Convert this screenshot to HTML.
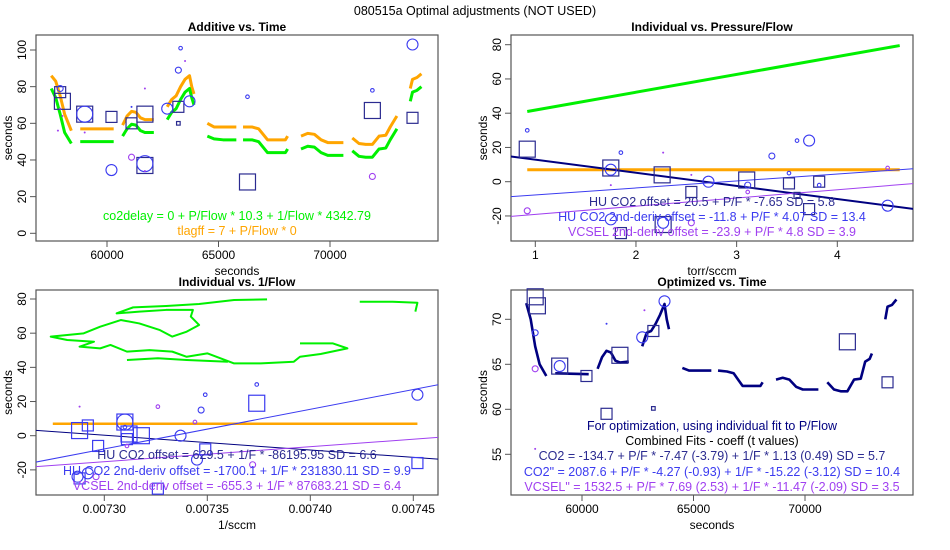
<!DOCTYPE html>
<html><head><meta charset="utf-8"><style>
body{margin:0;background:#fff;}
svg{display:block;font-family:"Liberation Sans",sans-serif;}
</style></head><body>
<svg id="c" width="950" height="550" viewBox="0 0 950 550"></svg>
<script>
// ---------- Data ----------
const segTimes=[[57500,57700,57900,58100,58400],[58800,60300],[60700,60900,61100,61300,61500,61700,62100],[62700,62900,63100,63300,63500,63700,63800,63900],[64500,64800,65200,65800],[66100,66500,66800,67000,67200,67500,68000,68100],[68700,69000,69300,69600,69900,70600],[71000,71300,71600,71900,72200,72500,72700,72900,73000],[73600,73700,73900,74100]];
const orangeVals=[[86,83,75,65,56],[57,57],[59,64,66.5,66,63,62,62],[69,73,75,80,84,86,80,76],[60,58,58,58],[58,58,57,54,51,51,51,53],[53,54.5,54,51,49.5,49.5],[52,49,48.5,48.5,53,53.5,58,62,64],[79,84,85,87]];
const greenVals=[[79,74,65,55,49],[50,50],[53,57,59.5,59,56,55,55],[62,66,68,73,77,79,74,70],[53,51.5,51,51],[51,51,50,47,44,44,44,46],[46,47.5,47,44,42.5,42.5],[45,42,41.5,41.5,46,46.5,51,55,57],[72,77,78,80]];
const optVals=[[71.8,70,67,65,63.7],[64,63.9],[64.5,65.8,66.5,66.3,65.4,65.2,65.3],[67,68.5,68.7,69.5,70.5,71.7,70,68.9],[64.6,64.3,64.3,64.3],[64.3,64.2,64,63.3,62.6,62.6,62.6,63],[63.3,63.5,63.3,62.5,62.2,62.2],[63,62.2,62,62,63.3,63.4,65.3,65.6,66.2],[70,71.4,71.6,72.2]];
const p1Squares=[[57900,77,'m'],[58000,72,'l'],[59000,65,'l'],[60200,63.5,'m'],[61100,60,'m'],[61700,65,'l'],[61700,37,'l'],[63200,69,'m'],[66300,28,'l'],[71900,67,'l'],[73700,63,'m'],[63200,60,'t']];
const p1Circles=[[57900,79,'s'],[59000,65,'l'],[60200,34.5,'m'],[61700,38,'l'],[62700,68,'m'],[63200,89,'s'],[63300,101,'t'],[63700,72,'m'],[66300,74.5,'t'],[71900,78,'t'],[73700,103,'m'],[61100,69,'d']];
const p1Purple=[[61100,41.5,'s'],[71900,31,'s'],[63500,94,'d'],[61700,79,'d'],[57900,68,'d'],[58000,64,'d'],[57800,56,'d'],[59000,55,'d'],[61700,34,'d']];
const p2Squares=[[0.92,19,'l'],[1.75,8,'l'],[2.26,4,'l'],[2.55,-6,'m'],[3.1,1,'l'],[3.52,-1,'m'],[3.6,-8,'s'],[3.72,-16,'m'],[3.82,0,'m'],[1.85,-30,'m'],[2.27,-25,'l']];
const p2Circles=[[0.92,30,'t'],[1.75,7,'m'],[1.75,-22,'m'],[1.85,17,'t'],[2.72,0,'m'],[3.11,-2,'s'],[3.35,15,'s'],[3.52,5,'t'],[3.6,24,'t'],[3.72,24,'m'],[3.82,-2,'t'],[4.5,-14,'m'],[2.27,-24,'m']];
const p2Purple=[[0.92,-17,'s'],[2.55,-24,'s'],[3.11,-6,'t'],[4.5,8,'t'],[2.27,17,'d'],[1.75,-2,'d'],[2.55,4,'d']];
const p2GreenEnds=[[0.92,41],[4.62,79.5]];
const orangeLevel=7;
const p2Fits=[[20.5,-7.65],[-11.8,4.07],[-23.9,4.8]];
const p3Fits=[[629.5,-86195.95],[-1700.1,231830.11],[-655.3,87683.21]];
const p3Cloud=[[0.007379,79.8],[0.007363,79.4],[0.007346,77.1],[0.007330,75.9],[0.007314,75.1],[0.007306,71.6],[0.007317,72.6],[0.007330,73.6],[0.007343,73.6],[0.007342,69.7],[0.007346,64.8],[0.007340,60.9],[0.007333,58.0],[0.007327,61.8],[0.007317,65.7],[0.007308,67.7],[0.007298,63.8],[0.007290,59.9],[0.007274,58.0],[0.007282,56.0],[0.007295,55.0],[0.007288,52.1],[0.007298,51.1],[0.007303,53.1],[0.007311,49.2],[0.007322,50.1],[0.007333,49.2],[0.007340,46.2],[0.007350,48.2],[0.007363,42.3],[0.007376,42.3],[0.007392,43.3],[0.007395,46.2],[0.007405,47.8],[0.007418,51.1],[0.007411,54.0],[0.007395,54.0]];
const p3Cloud2=[[0.007311,44.3],[0.007326,45.3],[0.007340,44.3],[0.007360,43.3]];
const p3Cloud3=[[0.007424,78.4],[0.007440,78.4],[0.007452,77.8],[0.007451,72.6]];
const p3Squares=[[0.007288,3,'l'],[0.007292,6,'m'],[0.007297,-6,'m'],[0.007310,8,'l'],[0.007312,1,'l'],[0.007311,-2,'m'],[0.007318,0,'l'],[0.007326,-31,'m'],[0.007349,-8,'m'],[0.007374,19,'l'],[0.007452,-16,'m'],[0.007288,-25,'m']];
const p3Circles=[[0.007310,8,'l'],[0.007337,0,'m'],[0.007347,15,'s'],[0.007349,24,'t'],[0.007374,30,'t'],[0.007452,24,'m'],[0.007345,-14,'m'],[0.007287,-24,'m'],[0.007292,-22,'m'],[0.007310,5,'t']];
const p3Purple=[[0.007326,17,'t'],[0.007372,-17,'s'],[0.007296,-24,'s'],[0.007344,8,'t'],[0.007288,17,'d'],[0.007311,-6,'t']];
const p4Squares=[[57900,72.5,'l'],[58000,71.5,'l'],[59000,64.8,'l'],[60200,63.7,'m'],[61100,59.5,'m'],[61700,66,'l'],[63200,68.7,'m'],[71900,67.5,'l'],[73700,63,'m'],[63200,60.1,'t']];
const p4Circles=[[57900,68.5,'s'],[59000,64.8,'m'],[62700,68,'m'],[63700,72,'m'],[61100,69.5,'d']];
const p4Purple=[[57900,64.5,'s'],[62800,71,'d'],[57900,55.6,'d']];
const ticks1Y=[0,20,40,60,80,100], ticksTime=[60000,65000,70000];
const ticks2Y=[-20,0,20,40,60,80], ticks2X=[1,2,3,4];
const ticks3X=[0.0073,0.00735,0.0074,0.00745];
const ticks4Y=[55,60,65,70];
// ---------- Helpers ----------
const svg=document.getElementById('c');const NS='http://www.w3.org/2000/svg';
function mk(tag,attrs,parent){const e=document.createElementNS(NS,tag);for(const k in attrs)e.setAttribute(k,attrs[k]);(parent||svg).appendChild(e);return e;}
function txt(x,y,s,attrs,parent){const e=mk('text',Object.assign({x:x,y:y,'font-size':12,'text-anchor':'middle'},attrs),parent);e.textContent=s;return e;}
const SZ={t:1.8,s:3,m:5.5,l:8,d:1};
const NAVY='#2b2b90',BLUE='#3b3bf0',PURP='#a040f0',GREEN='#00f000',ORANGE='#ffa500',DNAVY='#000080';
function panel(name,box,xd,yd){
  const g=mk('g',{});
  const sx=v=>xd[2]+(v-xd[0])*(xd[3]-xd[2])/(xd[1]-xd[0]);
  const sy=v=>yd[2]+(v-yd[0])*(yd[3]-yd[2])/(yd[1]-yd[0]);
  return {g,sx,sy,box};
}
function axes(P,xt,xfmt,yt,title,xlab,nm){
  const [x0,y0,x1,y1]=P.box;
  const b=mk('rect',{x:x0,y:y0,width:x1-x0,height:y1-y0,fill:'none',stroke:'#555','stroke-width':1.2},P.g);
  
  const xa=mk('g',{},P.g);
  mk('line',{x1:P.sx(xt[0]),x2:P.sx(xt[xt.length-1]),y1:y1,y2:y1,stroke:'#555'},xa);
  xt.forEach(v=>{mk('line',{x1:P.sx(v),x2:P.sx(v),y1:y1,y2:y1+6,stroke:'#555'},xa);txt(P.sx(v),y1+18,xfmt(v),{},xa);});
  const ya=mk('g',{},P.g);
  mk('line',{x1:x0,x2:x0,y1:P.sy(yt[0]),y2:P.sy(yt[yt.length-1]),stroke:'#555'},ya);
  yt.forEach(v=>{const y=P.sy(v);mk('line',{x1:x0-6,x2:x0,y1:y,y2:y,stroke:'#555'},ya);txt(x0-10,y,String(v),{transform:`rotate(-90 ${x0-10} ${y})`},ya);});
  const t=txt((x0+x1)/2,y0-4,title,{'font-weight':'bold'},P.g);
  const xl=txt((x0+x1)/2,y1+34,xlab,{},P.g);
  const yl=txt(x0-24,(y0+y1)/2,'seconds',{transform:`rotate(-90 ${x0-24} ${(y0+y1)/2})`},P.g);
}
function markers(P,arr,shape,color,nm){
  const g=mk('g',{},P.g);
  arr.forEach(p=>{const x=P.sx(p[0]),y=P.sy(p[1]),r=SZ[p[2]];let e;
    if(p[2]==='d')e=mk('circle',{cx:x,cy:y,r:1,fill:color},g);
    else if(shape==='sq')e=mk('rect',{x:x-r,y:y-r,width:2*r,height:2*r,fill:'none',stroke:color,'stroke-width':1.2},g);
    else e=mk('circle',{cx:x,cy:y,r:r,fill:'none',stroke:color,'stroke-width':1.1},g);
    });
}
function segLines(P,times,vals,color,w,nm){
  const g=mk('g',{},P.g);
  times.forEach((ts,i)=>{const pts=ts.map((t,j)=>P.sx(t)+','+P.sy(vals[i][j])).join(' ');
    const e=mk('polyline',{points:pts,fill:'none',stroke:color,'stroke-width':w,'stroke-linejoin':'round'},g);
    });
}
function clipTo(P,id){const c=mk('clipPath',{id:id});mk('rect',{x:P.box[0],y:P.box[1],width:P.box[2]-P.box[0],height:P.box[3]-P.box[1]},c);}
function fitLine(P,f,color,w,nm,xr,id){
  const e=mk('line',{x1:P.sx(xr[0]),y1:P.sy(f[0]+f[1]*xr[0]),x2:P.sx(xr[1]),y2:P.sy(f[0]+f[1]*xr[1]),stroke:color,'stroke-width':w,'clip-path':`url(#${id})`},P.g);
  
}
function label(P,x,y,s,color,nm){const t=txt(x,y,s,{fill:color,'font-size':12.5},P.g);}

const mt=txt(475,15,'080515a   Optimal adjustments (NOT USED)',{'font-size':12.5});


// Panel 1
const P1=panel('panel-additive-vs-time',[36,35,438,241],[60000,70000,107,330],[0,100,233.3,50]);
axes(P1,ticksTime,String,ticks1Y,'Additive vs. Time','seconds','p1');
segLines(P1,segTimes,orangeVals,ORANGE,3,'tlagff-series');
segLines(P1,segTimes,greenVals,GREEN,3,'co2delay-series');
markers(P1,p1Squares,'sq',NAVY,'hu-co2-squares');
markers(P1,p1Circles,'ci',BLUE,'hu-co2-2nd-circles');
markers(P1,p1Purple,'ci',PURP,'vcsel-circles');
label(P1,237,220,'co2delay = 0 + P/Flow * 10.3 + 1/Flow * 4342.79',GREEN,'co2delay-equation');
label(P1,237,235,'tlagff = 7 + P/Flow * 0',ORANGE,'tlagff-equation');

// Panel 2
const P2=panel('panel-individual-vs-pressure-flow',[511,35,913,241],[1,4,535.3,837.3],[0,80,181.7,44.7]);
clipTo(P2,'cl2');
axes(P2,ticks2X,String,ticks2Y,'Individual vs. Pressure/Flow','torr/sccm','p2');
(function(){const e=mk('line',{x1:P2.sx(p2GreenEnds[0][0]),y1:P2.sy(p2GreenEnds[0][1]),x2:P2.sx(p2GreenEnds[1][0]),y2:P2.sy(p2GreenEnds[1][1]),stroke:GREEN,'stroke-width':3},P2.g);
const o=mk('line',{x1:P2.sx(0.92),y1:P2.sy(orangeLevel),x2:P2.sx(4.62),y2:P2.sy(orangeLevel),stroke:ORANGE,'stroke-width':3},P2.g);})();
fitLine(P2,p2Fits[0],DNAVY,2,'hu-co2-fit',[0.7,4.8],'cl2');
fitLine(P2,p2Fits[1],BLUE,1,'hu-co2-2nd-fit',[0.7,4.8],'cl2');
fitLine(P2,p2Fits[2],PURP,1,'vcsel-fit',[0.7,4.8],'cl2');
markers(P2,p2Squares,'sq',NAVY,'hu-co2-squares');
markers(P2,p2Circles,'ci',BLUE,'hu-co2-2nd-circles');
markers(P2,p2Purple,'ci',PURP,'vcsel-circles');
label(P2,712,206,'HU CO2 offset = 20.5 + P/F * -7.65  SD = 5.8',NAVY,'hu-co2-equation');
label(P2,712,221,'HU CO2 2nd-deriv offset = -11.8 + P/F * 4.07  SD = 13.4',BLUE,'hu-co2-2nd-equation');
label(P2,712,236,'VCSEL 2nd-deriv offset = -23.9 + P/F * 4.8  SD = 3.9',PURP,'vcsel-equation');

// Panel 3
const P3=panel('panel-individual-vs-inverse-flow',[36,290,438,495],[0.0073,0.00745,104.3,413.3],[0,80,435.7,299]);
clipTo(P3,'cl3');
axes(P3,ticks3X,v=>v.toFixed(5),ticks2Y,'Individual vs. 1/Flow','1/sccm','p3');
[p3Cloud,p3Cloud2,p3Cloud3].forEach(c=>{const e=mk('polyline',{points:c.map(p=>P3.sx(p[0])+','+P3.sy(p[1])).join(' '),fill:'none',stroke:GREEN,'stroke-width':2,'stroke-linejoin':'round'},P3.g);});
(function(){const o=mk('line',{x1:P3.sx(0.007275),y1:P3.sy(orangeLevel),x2:P3.sx(0.007452),y2:P3.sy(orangeLevel),stroke:ORANGE,'stroke-width':2.5},P3.g);})();
fitLine(P3,p3Fits[0],DNAVY,1,'hu-co2-fit',[0.00726,0.00747],'cl3');
fitLine(P3,p3Fits[1],BLUE,1,'hu-co2-2nd-fit',[0.00726,0.00747],'cl3');
fitLine(P3,p3Fits[2],PURP,1,'vcsel-fit',[0.00726,0.00747],'cl3');
markers(P3,p3Squares,'sq',BLUE,'hu-co2-squares');
markers(P3,p3Circles,'ci',BLUE,'hu-co2-2nd-circles');
markers(P3,p3Purple,'ci',PURP,'vcsel-circles');
label(P3,237,459,'HU CO2 offset = 629.5 + 1/F * -86195.95  SD = 6.6',NAVY,'hu-co2-equation');
label(P3,237,475,'HU CO2 2nd-deriv offset = -1700.1 + 1/F * 231830.11  SD = 9.9',BLUE,'hu-co2-2nd-equation');
label(P3,237,490,'VCSEL 2nd-deriv offset = -655.3 + 1/F * 87683.21  SD = 6.4',PURP,'vcsel-equation');

// Panel 4
const P4=panel('panel-optimized-vs-time',[511,290,913,495],[60000,70000,582,805],[55,70,454.3,319.3]);
axes(P4,ticksTime,String,ticks4Y,'Optimized vs. Time','seconds','p4');
segLines(P4,segTimes,optVals,DNAVY,2.6,'optimized-series');
markers(P4,p4Squares,'sq',NAVY,'hu-co2-squares');
markers(P4,p4Circles,'ci',BLUE,'hu-co2-2nd-circles');
markers(P4,p4Purple,'ci',PURP,'vcsel-circles');
label(P4,712,430,'For optimization, using individual fit to P/Flow',DNAVY,'optimization-note');
label(P4,712,445,'Combined Fits - coeff (t values)','#000','combined-fits-heading');
label(P4,712,460,'CO2 = -134.7 + P/F * -7.47 (-3.79) + 1/F * 1.13 (0.49)  SD = 5.7',NAVY,'co2-combined-equation');
label(P4,712,476,'CO2" = 2087.6 + P/F * -4.27 (-0.93) + 1/F * -15.22 (-3.12)  SD = 10.4',BLUE,'co2-2nd-combined-equation');
label(P4,712,491,'VCSEL" = 1532.5 + P/F * 7.69 (2.53) + 1/F * -11.47 (-2.09)  SD = 3.5',PURP,'vcsel-combined-equation');
</script>
</body></html>
